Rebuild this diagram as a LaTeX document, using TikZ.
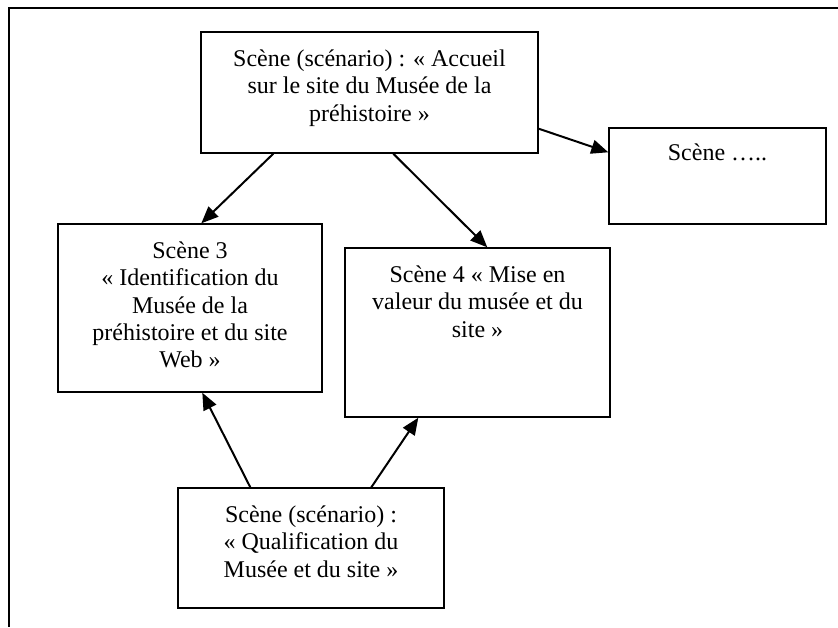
\documentclass[tikz,border=0pt]{standalone}
\usepackage{fontspec}
\setmainfont{Liberation Serif}
\usetikzlibrary{positioning,arrows.meta}

\begin{document}
\begin{tikzpicture}[
    x=0.5pt, y=-0.5pt,
    scene/.style={draw, line width=0.7pt, inner sep=0pt},
    txt/.style={align=center, font=\fontsize{12}{13.6}\selectfont, inner sep=0pt},
    >={Triangle[length=8.5pt, width=7pt]},
    arr/.style={->, line width=1pt}
]
  \useasboundingbox (0,0) rectangle (838,627);

  % 外框
  \coordinate (tl) at (9,8);
  \coordinate (tr) at (838,8);
  \coordinate (bl) at (9,627);
  \draw[line width=0.8pt] (tr) -- (tl) -- (bl);

  % 定义方框位置
  \node[scene, minimum width=168.5pt, minimum height=60.5pt] (acc) at (369.5,92.5) {};
  \node[scene, minimum width=108.5pt, minimum height=48pt] (etc) at (717.5,176) {};
  \node[scene, minimum width=132pt, minimum height=84pt] (sc3) at (190,308) {};
  \node[scene, minimum width=132.5pt, minimum height=84.5pt] (sc4) at (477.5,332.5) {};
  \node[scene, minimum width=133pt, minimum height=60pt] (qual) at (311,548) {};

  % 方框里的文字
  \node[txt, below=8pt of acc.north] (acc-t) {\strut Scène (scénario) : « Accueil\\ sur le site du Musée de la\\ préhistoire »};
  \node[txt, below=7pt of etc.north] (etc-t) {\strut Scène …..};
  \node[txt, below=8pt of sc3.north] (sc3-t) {\strut Scène 3\\ « Identification du\\ Musée de la\\ préhistoire et du site\\ Web »};
  \node[txt, below=8pt of sc4.north] (sc4-t) {\strut Scène 4 « Mise en\\ valeur du musée et du\\ site »};
  \node[txt, below=8pt of qual.north] (qual-t) {\strut Scène (scénario) :\\ « Qualification du\\ Musée et du site »};

  % 绘制箭头
  \draw[arr] ([xshift=36.5pt]acc.south west) -- ([xshift=72pt]sc3.north west);
  \draw[arr] ([xshift=96.5pt]acc.south west) -- ([xshift=71.5pt]sc4.north west);
  \draw[arr] ([yshift=12.5pt]acc.south east) -- ([yshift=-12.5pt]etc.north west);
  \draw[arr] ([xshift=36.5pt]qual.north west) -- ([xshift=72.5pt]sc3.south west);
  \draw[arr] ([xshift=97pt]qual.north west) -- ([xshift=37pt]sc4.south west);
\end{tikzpicture}
\end{document}
